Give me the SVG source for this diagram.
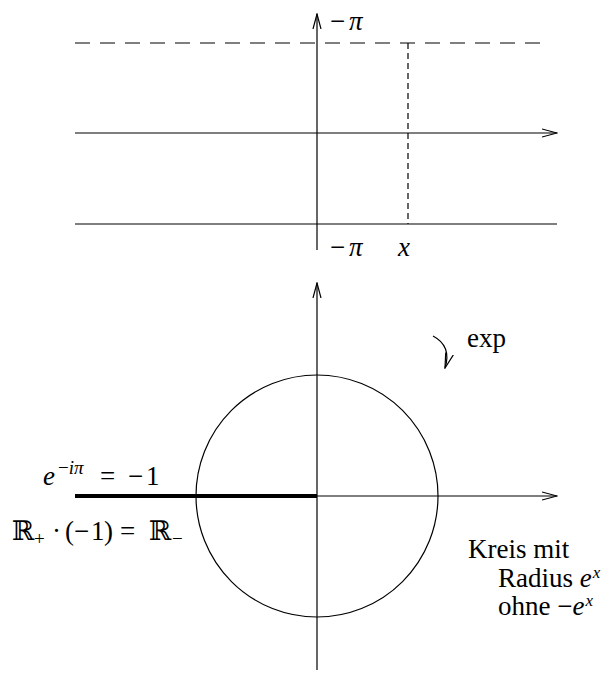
<svg xmlns="http://www.w3.org/2000/svg" width="612" height="673" viewBox="0 0 612 673">
<style>
.ln{stroke:#000;stroke-width:1.2;fill:none}
.t{font-family:"Liberation Serif","DejaVu Serif",serif;font-size:27px;fill:#000}
.i{font-style:italic}
.s{font-size:19px}
.u{font-size:17px}
</style>
<defs>
<marker id="ah" viewBox="0 0 16 10" refX="15" refY="5" markerWidth="16" markerHeight="10" markerUnits="userSpaceOnUse" orient="auto">
<path d="M0,1 L15,5 L0,9" fill="none" stroke="#000" stroke-width="1.2"/>
</marker>
</defs>
<g id="connectors">
<line class="ln" x1="75" y1="133" x2="557" y2="133" marker-end="url(#ah)"/>
<line class="ln" x1="75" y1="224" x2="557" y2="224"/>
<line class="ln" x1="317" y1="250" x2="317" y2="14" marker-end="url(#ah)"/>
<line class="ln" x1="75" y1="43" x2="545" y2="43" stroke-dasharray="15,10"/>
<line class="ln" x1="408" y1="43" x2="408" y2="224" stroke-dasharray="6,4"/>
<line class="ln" x1="317" y1="670" x2="317" y2="283" marker-end="url(#ah)"/>
<line class="ln" x1="317" y1="496" x2="557" y2="496" marker-end="url(#ah)"/>
<line x1="75" y1="496" x2="317" y2="496" stroke="#000" stroke-width="4"/>
<path class="ln" d="M433,336 Q452,346 445,368" marker-end="url(#ah)"/>
</g>
<g id="circle"><circle class="ln" cx="317" cy="496" r="121"/></g>
<g id="labels">
<text class="t" x="330" y="30">−<tspan class="i" x="349">π</tspan></text>
<text class="t" x="330" y="256">−<tspan class="i" x="349">π</tspan></text>
<text class="t i" x="398" y="256">x</text>
<text class="t" x="467" y="347">exp</text>
<text class="t" y="485"><tspan class="i" x="43">e</tspan><tspan class="s" x="58" dy="-11">−<tspan class="i">iπ</tspan></tspan><tspan x="100" dy="11">=</tspan><tspan x="128">−</tspan><tspan x="146">1</tspan></text>
<text class="t" y="540"><tspan x="12">ℝ</tspan><tspan class="s" x="34" dy="5">+</tspan><tspan x="52" dy="-5">·</tspan><tspan x="65">(</tspan><tspan x="74">−</tspan><tspan x="91">1</tspan><tspan x="104">)</tspan><tspan x="120">=</tspan><tspan x="149">ℝ</tspan><tspan class="s" x="172" dy="5">−</tspan></text>
<text class="t" x="468" y="558">Kreis mit</text>
<text class="t" x="498" y="587">Radius <tspan class="i">e</tspan><tspan class="i u" dx="1" dy="-9">x</tspan></text>
<text class="t" x="498" y="615">ohne −<tspan class="i">e</tspan><tspan class="i u" dx="1" dy="-9">x</tspan></text>
</g>
</svg>
